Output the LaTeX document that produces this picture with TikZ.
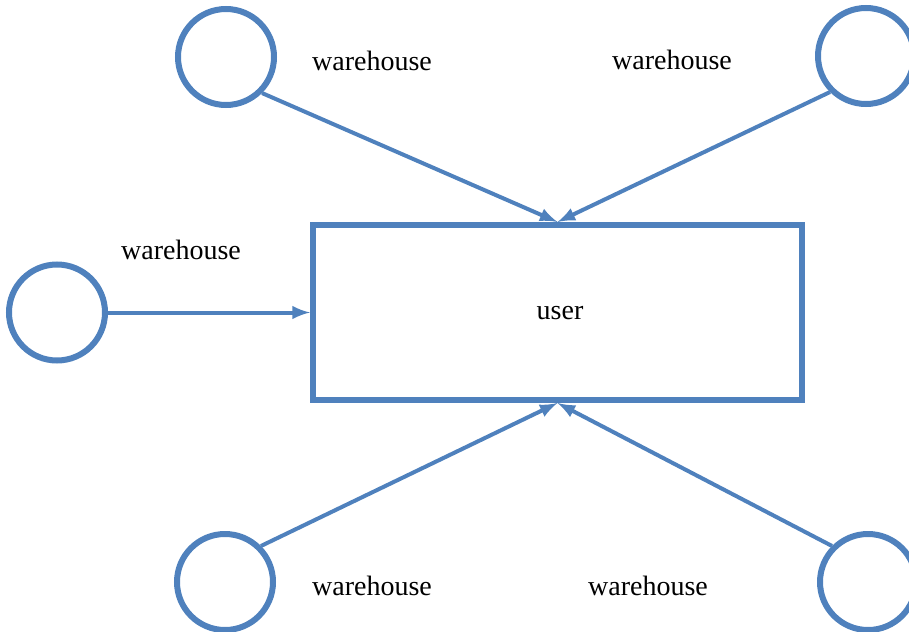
\documentclass[tikz,border=0pt]{standalone}
\usepackage{fontspec}
\setmainfont{Liberation Serif}
\usepackage{tikz}
\usetikzlibrary{arrows,positioning}
\usepackage{xcolor}
\definecolor{lineblue}{HTML}{4F81BD}

\begin{document}
\begin{tikzpicture}[x=0.5pt,y=-0.5pt,
	  every node/.style={align=center,text=black},
	  store/.style={circle,draw=lineblue,line width=3pt,minimum size=48pt,inner sep=0pt},
	  client/.style={rectangle,draw=lineblue,line width=3pt,minimum width=244.5pt,minimum height=87.5pt,inner sep=0pt},
	  tag/.style={font=\fontsize{14}{16}\selectfont},
	  to/.style={->,>=latex,draw=lineblue,line width=2pt}]

	  \useasboundingbox (0,0) rectangle (909,631);

	  % the user box in the middle
	  \node[client] (user) at (557.5,312.5) {};
	  \node[tag] (usertext) at (560,313) {user};

	  % warehouses all round it
	  \node[store] (topleft) at (226,57) {};
	  \node[store] (topright) at (866,56) {};
	  \node[store] (left) at (57,312.5) {};
	  \node[store] (botleft) at (225,582) {};
	  \node[store] (botright) at (868,582) {};

	  \node[tag] (topleftlabel) at (372,61) {warehouse};
	  \node[tag] (toprightlabel) at (672,60) {warehouse};
	  \node[tag] (leftlabel) at (181,250) {warehouse};
	  \node[tag] (botleftlabel) at (372,586) {warehouse};
	  \node[tag] (botrightlabel) at (648,586) {warehouse};

	  \draw[to] (topleft.south east) -- (user.north);
	  \draw[to] (topright.south west) -- (user.north);
	  \draw[to] (left) -- (user.west);
	  \draw[to] (botleft.north east) -- (user.south);
	  \draw[to] (botright.north west) -- (user.south);
\end{tikzpicture}
\end{document}
